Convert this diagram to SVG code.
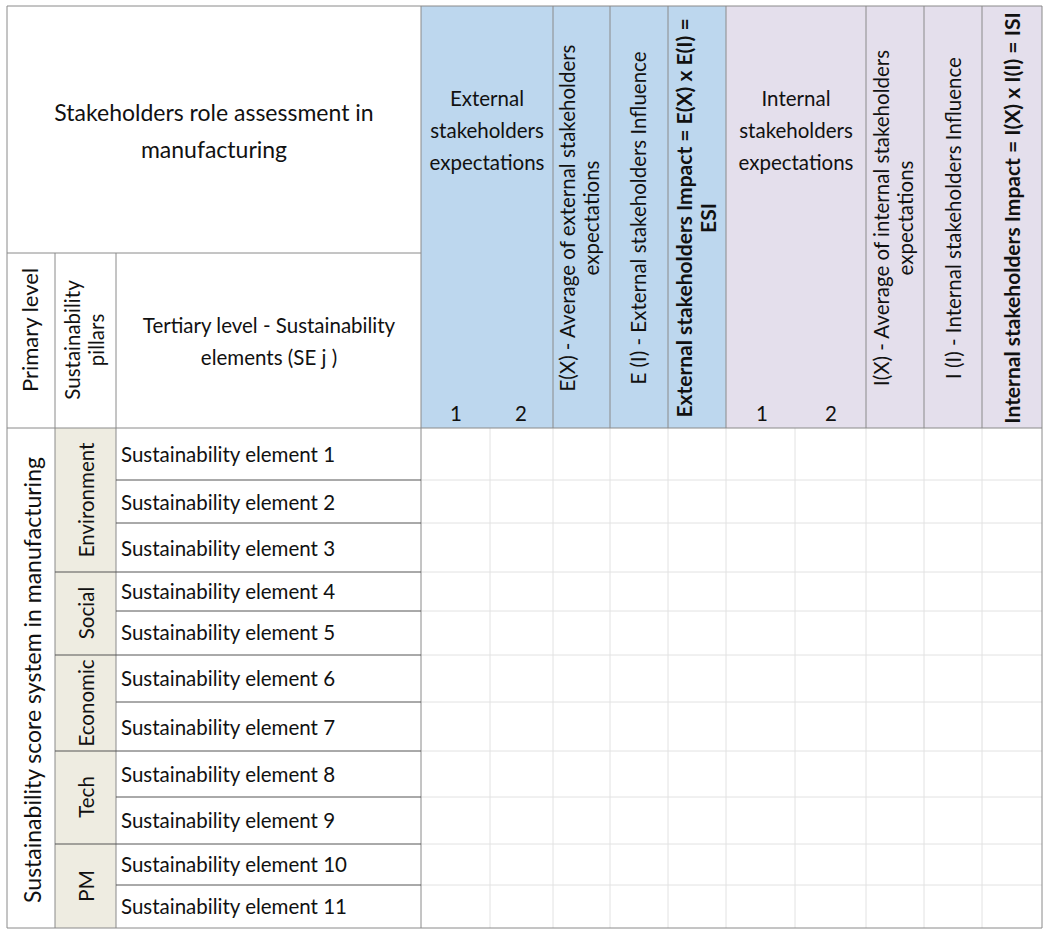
<svg xmlns="http://www.w3.org/2000/svg" width="1049" height="936" viewBox="0 0 1049 936">
<style>
text{font-family:Lato,"Open Sans","Liberation Sans",sans-serif;font-size:20.5px;fill:#111}
.c{text-anchor:middle}
.b{font-weight:bold;font-size:21px}
.t{font-size:23px}
.g{stroke:#e2e2e2;stroke-width:1;fill:none}
.d{stroke:#555;stroke-width:1;fill:none}
.m{stroke:#8a8a8a;stroke-width:1;fill:none}
</style>
<rect width="1049" height="936" fill="#fff"/>
<g id="header-fills">
<rect x="421" y="6" width="305" height="422" fill="#BDD7EE"/>
<rect x="726" y="6" width="316" height="422" fill="#E4DFEC"/>
<rect x="55" y="428" width="61" height="500" fill="#EEECE1"/>
</g>
<g id="connectors">
<g class="g">
<path d="M490 428V928M553 428V928M610 428V928M668 428V928M726 428V928M795 428V928M866 428V928M924 428V928M982 428V928"/>
<path d="M421 480H1042M421 523H1042M421 572H1042M421 611H1042M421 655H1042M421 702H1042M421 751H1042M421 797H1042M421 844H1042M421 885H1042"/>
</g>
<path class="m" d="M553 6V428M610 6V428M668 6V428M726 6V428M866 6V428M924 6V428M982 6V428"/>
<path class="m" d="M7 6H1042V928H7Z"/>
<path class="m" d="M7 428H1042M421 6V928M7 253H421M55 253V928M116 253V928"/>
<path class="d" d="M116 480H421M116 523H421M55 572H421M116 611H421M55 655H421M116 702H421M55 751H421M116 797H421M55 844H421M116 885H421"/>
</g>
<g id="title"><text class="c t" x="214" y="121">Stakeholders role assessment in</text><text class="c t" x="214" y="158">manufacturing</text></g>
<g id="primary"><text class="c" style="font-size:22px" transform="translate(38,330) rotate(-90)">Primary level</text></g>
<g id="pillars"><text class="c" transform="translate(80,340) rotate(-90)">Sustainability</text><text class="c" transform="translate(104,340) rotate(-90)">pillars</text></g>
<g id="tertiary"><text class="c" x="269" y="333">Tertiary level - Sustainability</text><text class="c" x="269" y="365">elements (SE j )</text></g>
<g id="ext"><text class="c" x="487" y="106">External</text><text class="c" x="487" y="138">stakeholders</text><text class="c" x="487" y="170">expectations</text><text class="c" x="456" y="421">1</text><text class="c" x="521" y="421">2</text></g>
<g id="ex"><text class="c" transform="translate(575,218) rotate(-90)">E(X) - Average of external stakeholders</text><text class="c" transform="translate(599,218) rotate(-90)">expectations</text></g>
<g id="ei"><text class="c" transform="translate(646,218) rotate(-90)">E (I) - External stakeholders Influence</text></g>
<g id="esi"><text class="c b" transform="translate(692,218) rotate(-90)">External stakeholders Impact = E(X) x E(I) =</text><text class="c b" transform="translate(716,218) rotate(-90)">ESI</text></g>
<g id="int"><text class="c" x="796" y="106">Internal</text><text class="c" x="796" y="138">stakeholders</text><text class="c" x="796" y="170">expectations</text><text class="c" x="762" y="421">1</text><text class="c" x="831" y="421">2</text></g>
<g id="ix"><text class="c" transform="translate(889,218) rotate(-90)">I(X) - Average of internal stakeholders</text><text class="c" transform="translate(913,218) rotate(-90)">expectations</text></g>
<g id="ii"><text class="c" transform="translate(961,218) rotate(-90)">I (I) - Internal stakeholders Influence</text></g>
<g id="isi"><text class="c b" transform="translate(1020,218) rotate(-90)">Internal stakeholders Impact = I(X) x I(I) = ISI</text></g>
<g id="sss"><text class="c t" transform="translate(41,680) rotate(-90)">Sustainability score system in manufacturing</text></g>
<g id="p-env"><text class="c" transform="translate(94,500) rotate(-90)">Environment</text></g>
<g id="p-soc"><text class="c" transform="translate(94,613) rotate(-90)">Social</text></g>
<g id="p-eco"><text class="c" transform="translate(94,703) rotate(-90)">Economic</text></g>
<g id="p-tech"><text class="c" transform="translate(94,797) rotate(-90)">Tech</text></g>
<g id="p-pm"><text class="c" transform="translate(94,886) rotate(-90)">PM</text></g>
<g id="elements">
<text x="121" y="462">Sustainability element 1</text>
<text x="121" y="510">Sustainability element 2</text>
<text x="121" y="556">Sustainability element 3</text>
<text x="121" y="599">Sustainability element 4</text>
<text x="121" y="640">Sustainability element 5</text>
<text x="121" y="686">Sustainability element 6</text>
<text x="121" y="735">Sustainability element 7</text>
<text x="121" y="782">Sustainability element 8</text>
<text x="121" y="828">Sustainability element 9</text>
<text x="121" y="872">Sustainability element 10</text>
<text x="121" y="914">Sustainability element 11</text>
</g>
</svg>
